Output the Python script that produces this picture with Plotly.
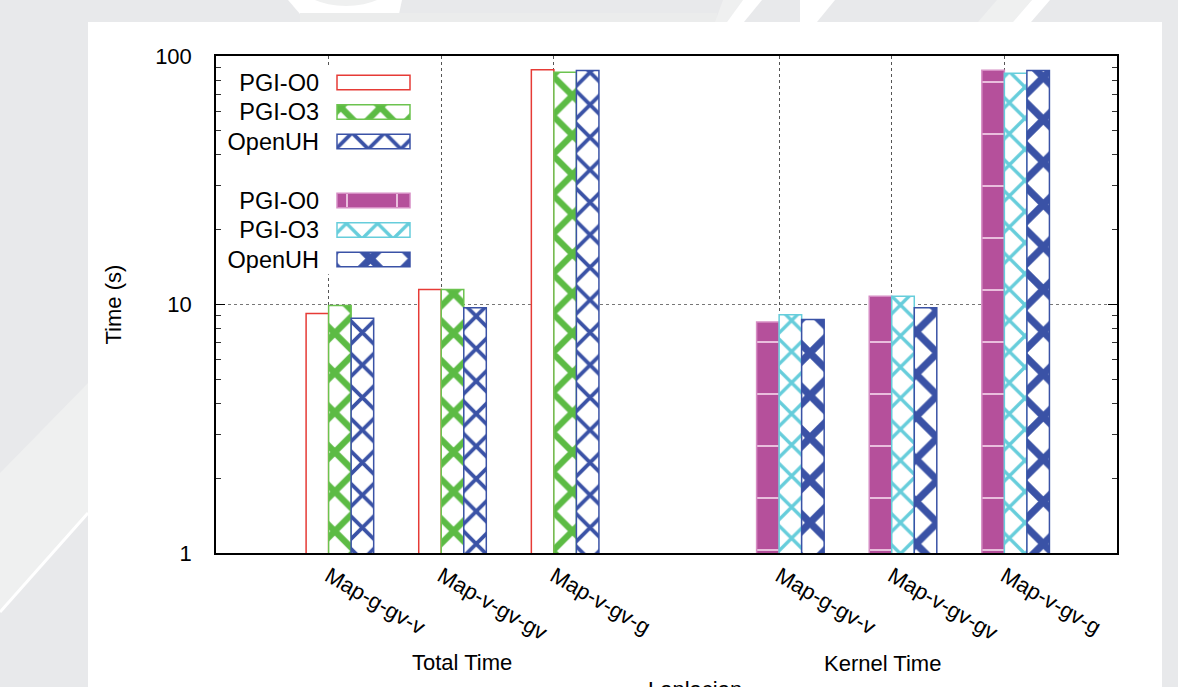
import plotly.graph_objects as go

# ---------------- data ----------------
categories = ["Map-g-gv-v", "Map-v-gv-gv", "Map-v-gv-g"]
total_positions = [0, 1, 2]
kernel_positions = [4, 5, 6]

total_pgi_o0 = [9.2, 11.5, 88.0]
total_pgi_o3 = [9.9, 11.5, 86.0]
total_openuh = [8.8, 9.7, 87.5]

kernel_pgi_o0 = [8.5, 10.8, 87.6]
kernel_pgi_o3 = [9.1, 10.8, 85.2]
kernel_openuh = [8.7, 9.7, 87.5]

legend_labels = ["PGI-O0", "PGI-O3", "OpenUH", "PGI-O0", "PGI-O3", "OpenUH"]
legend_rows = [0, 1, 2, 4, 5, 6]
group_titles = ["Total Time", "Kernel Time"]
y_tick_vals = [1, 10, 100]
y_tick_text = ["1", "10", "100"]
y_minor_vals = [2, 3, 4, 5, 6, 7, 8, 9, 20, 30, 40, 50, 60, 70, 80, 90]

# ---------------- styles ----------------
FONT = "Liberation Sans, Arial, Helvetica, sans-serif"
RED = "#e63b36"
GREEN = "#5cbb44"
BLUE = "#3a52a6"
MAGENTA = "#b5509b"
MAGENTA_EDGE = "#d68dc4"
CYAN = "#66cddb"

W, H = 1178, 687
L, R, T, B = 216, 1117, 56, 553


def fx(px):
    return (px - L) / (R - L)


def fy(py):
    return (B - py) / (B - T)


BAR_W = 0.2
OFFSETS = [-0.3, -0.1, 0.1]

styles = [
    dict(color="white", line=RED, pattern=dict(shape="")),
    dict(color="white", line="#6cc34f",
         pattern=dict(shape="x", fgcolor=GREEN, bgcolor="white", size=28,
                      solidity=0.4, fgopacity=1, fillmode="replace")),
    dict(color="white", line=BLUE,
         pattern=dict(shape="x", fgcolor=BLUE, bgcolor="white", size=23,
                      solidity=0.3, fgopacity=1, fillmode="replace")),
    dict(color=MAGENTA, line=MAGENTA_EDGE,
         pattern=dict(shape="-", fgcolor="#e9bedd", bgcolor=MAGENTA, size=52,
                      solidity=0.04, fgopacity=1, fillmode="replace")),
    dict(color="white", line=CYAN,
         pattern=dict(shape="x", fgcolor=CYAN, bgcolor="white", size=22,
                      solidity=0.28, fgopacity=1, fillmode="replace")),
    dict(color="white", line=BLUE,
         pattern=dict(shape="x", fgcolor=BLUE, bgcolor="white", size=30,
                      solidity=0.42, fgopacity=1, fillmode="replace")),
]
legend_patterns = [st["pattern"] for st in styles]
legend_patterns[3] = dict(shape="|", fgcolor="#e9bedd", bgcolor=MAGENTA, size=50,
                          solidity=0.04, fgopacity=1, fillmode="replace")

fig = go.Figure()

series_total = [total_pgi_o0, total_pgi_o3, total_openuh]
series_kernel = [kernel_pgi_o0, kernel_pgi_o3, kernel_openuh]

for i, vals in enumerate(series_total):
    st = styles[i]
    fig.add_trace(go.Bar(
        x=total_positions, y=vals, width=BAR_W, offset=OFFSETS[i],
        marker=dict(color=st["color"], opacity=1,
                    line=dict(color=st["line"], width=1.5),
                    pattern=st["pattern"]),
        showlegend=False, hoverinfo="skip"))

for i, vals in enumerate(series_kernel):
    st = styles[3 + i]
    fig.add_trace(go.Bar(
        x=kernel_positions, y=vals, width=BAR_W, offset=OFFSETS[i],
        marker=dict(color=st["color"], opacity=1,
                    line=dict(color=st["line"], width=1.5),
                    pattern=st["pattern"]),
        showlegend=False, hoverinfo="skip"))

# right-side mirrored log ticks
fig.add_trace(go.Scatter(x=[None], y=[None], xaxis="x", yaxis="y2",
                         showlegend=False, hoverinfo="skip"))

# ---- manual key (text left, swatch right) in its own small subplot ----
KEY_L, KEY_R = 222, 416          # opaque key box (px)
SW_L, SW_R = 337, 410            # swatch span (px)
sw_px = SW_R - SW_L
key_x_range = [-(SW_L - KEY_L) / sw_px, (KEY_R - SW_L) / sw_px]

# opaque white key background (hides the grid behind the key)
fig.add_trace(go.Bar(
    x=[key_x_range[1] - key_x_range[0]], y=[3], base=key_x_range[0],
    orientation="h", width=7, xaxis="x3", yaxis="y3",
    marker=dict(color="white", line=dict(width=0)),
    showlegend=False, hoverinfo="skip"))

for k, row in enumerate(legend_rows):
    st = styles[k]
    fig.add_trace(go.Bar(
        x=[1], y=[row], orientation="h", width=0.49, base=0,
        xaxis="x3", yaxis="y3",
        marker=dict(color=st["color"], opacity=1,
                    line=dict(color=st["line"], width=1.5),
                    pattern=legend_patterns[k]),
        showlegend=False, hoverinfo="skip"))

tick_positions = [p - 0.1 for p in total_positions + kernel_positions]
tick_labels = categories + categories

fig.update_layout(
    width=W, height=H,
    margin=dict(l=L, r=W - R, t=T, b=H - B),
    paper_bgcolor="#e8e9eb",
    plot_bgcolor="white",
    barmode="overlay",
    font=dict(family=FONT, size=22, color="black"),
    xaxis=dict(
        range=[-1.1, 6.9], tickvals=tick_positions, ticktext=tick_labels,
        tickangle=30, ticks="", showgrid=True, gridcolor="#555555",
        griddash="dot", gridwidth=1, showline=True, linecolor="black",
        linewidth=1.5, mirror=True, zeroline=False,
        tickfont=dict(family=FONT, size=22),
    ),
    yaxis=dict(
        type="log", range=[0, 2], tickvals=y_tick_vals, ticktext=y_tick_text,
        ticks="inside", ticklen=9, tickwidth=1, tickcolor="black",
        showgrid=True, gridcolor="#777777", griddash="dot", gridwidth=1,
        showline=True, linecolor="black", linewidth=1.5, mirror=True,
        minor=dict(tickvals=y_minor_vals, ticks="inside", ticklen=5,
                   tickcolor="#333333", showgrid=False),
        ticklabelstandoff=18, zeroline=False,
        tickfont=dict(family=FONT, size=22),
    ),
    yaxis2=dict(
        type="log", range=[0, 2], overlaying="y", side="right",
        tickvals=y_tick_vals, showticklabels=False,
        ticks="inside", ticklen=9, tickcolor="black", showgrid=False,
        minor=dict(tickvals=y_minor_vals, ticks="inside", ticklen=5,
                   tickcolor="#333333", showgrid=False),
        showline=False, zeroline=False,
    ),
    xaxis3=dict(domain=[fx(KEY_L), fx(KEY_R)], range=key_x_range, anchor="y3",
                visible=False, fixedrange=True),
    yaxis3=dict(domain=[fy(274.25), fy(67.75)], range=[6.5, -0.5],
                anchor="free", position=fx(SW_L),
                tickvals=legend_rows, ticktext=legend_labels, ticks="",
                showgrid=False, showline=False, zeroline=False,
                ticklabelstandoff=18, tickfont=dict(family=FONT, size=23.5)),
)

# ---------- background decoration (page behind the chart) ----------
shapes = []
LIGHT = "#eff0f0"
shapes.append(dict(type="path", xref="paper", yref="paper", layer="below",
                   path=f"M{fx(0)},{fy(473)} L{fx(88)},{fy(383)} L{fx(88)},{fy(513)} L{fx(0)},{fy(610)} Z",
                   fillcolor=LIGHT, line=dict(width=0)))
shapes.append(dict(type="line", xref="paper", yref="paper", layer="below",
                   x0=fx(88), y0=fy(513), x1=fx(0), y1=fy(612),
                   line=dict(color="white", width=3)))
shapes.append(dict(type="path", xref="paper", yref="paper", layer="below",
                   path=f"M{fx(288)},{fy(0)} L{fx(300)},{fy(14)} L{fx(399)},{fy(14)} L{fx(402)},{fy(0)} Z",
                   fillcolor="white", line=dict(width=0)))
shapes.append(dict(type="circle", xref="paper", yref="paper", layer="below",
                   x0=fx(300), x1=fx(392), y0=fy(6), y1=fy(-40),
                   fillcolor=LIGHT, line=dict(width=0)))
shapes.append(dict(type="path", xref="paper", yref="paper", layer="below",
                   path=f"M{fx(300)},{fy(13)} L{fx(717)},{fy(13)} L{fx(717)},{fy(22)} L{fx(300)},{fy(22)} Z",
                   fillcolor="#ebecec", line=dict(width=0)))
shapes.append(dict(type="path", xref="paper", yref="paper", layer="below",
                   path=f"M{fx(723)},{fy(0)} L{fx(743)},{fy(0)} L{fx(727)},{fy(22)} L{fx(715)},{fy(22)} Z",
                   fillcolor=LIGHT, line=dict(width=0)))
shapes.append(dict(type="path", xref="paper", yref="paper", layer="below",
                   path=f"M{fx(743)},{fy(0)} L{fx(762)},{fy(0)} L{fx(744)},{fy(22)} L{fx(727)},{fy(22)} Z",
                   fillcolor="white", line=dict(width=0)))
shapes.append(dict(type="path", xref="paper", yref="paper", layer="below",
                   path=f"M{fx(800)},{fy(0)} L{fx(835)},{fy(0)} L{fx(817)},{fy(22)} L{fx(800)},{fy(22)} Z",
                   fillcolor="white", line=dict(width=0)))
shapes.append(dict(type="path", xref="paper", yref="paper", layer="below",
                   path=f"M{fx(997)},{fy(0)} L{fx(1032)},{fy(0)} L{fx(1013)},{fy(22)} L{fx(978)},{fy(22)} Z",
                   fillcolor=LIGHT, line=dict(width=0)))
shapes.append(dict(type="path", xref="paper", yref="paper", layer="below",
                   path=f"M{fx(1032)},{fy(0)} L{fx(1050)},{fy(0)} L{fx(1031)},{fy(22)} L{fx(1013)},{fy(22)} Z",
                   fillcolor="white", line=dict(width=0)))
# white card
shapes.append(dict(type="rect", xref="paper", yref="paper", layer="below",
                   x0=fx(88), x1=fx(1162), y0=fy(700), y1=fy(22),
                   fillcolor="white", line=dict(width=0)))
fig.update_layout(shapes=shapes)

# ---------- annotations ----------
annotations = [
    dict(text="Time (s)", xref="paper", yref="paper", x=fx(113), y=0.5,
         xanchor="center", yanchor="middle", textangle=-90, showarrow=False,
         font=dict(family=FONT, size=22)),
    dict(text=group_titles[0], xref="x", yref="paper", x=1.083, y=fy(662),
         xanchor="center", yanchor="middle", showarrow=False,
         font=dict(family=FONT, size=22)),
    dict(text=group_titles[1], xref="x", yref="paper", x=4.82, y=fy(663),
         xanchor="center", yanchor="middle", showarrow=False,
         font=dict(family=FONT, size=22)),
    dict(text="Laplacian", xref="paper", yref="paper", x=fx(695), y=fy(675),
         xanchor="center", yanchor="top", showarrow=False,
         font=dict(family=FONT, size=22)),
]
fig.update_layout(annotations=annotations)

fig.write_html("out.html")
